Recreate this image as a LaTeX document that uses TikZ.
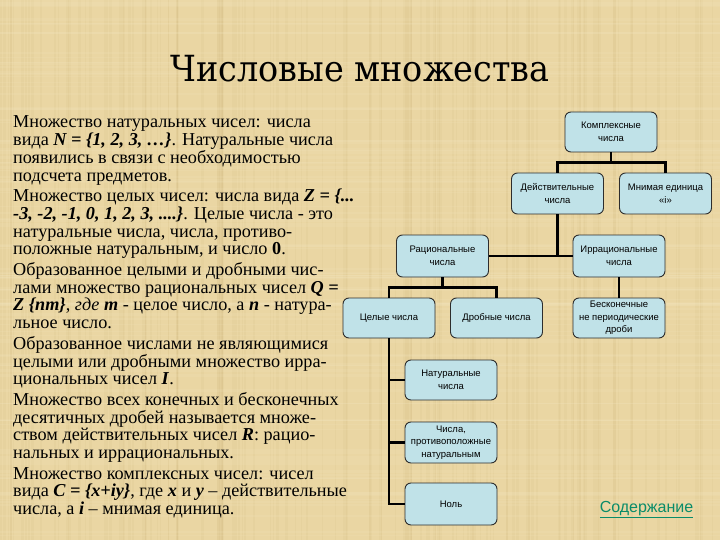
\documentclass[tikz,border=0pt]{standalone}
\usepackage{fontspec}
\setmainfont{Liberation Serif}
\newfontfamily\boxfont{Liberation Sans}
\newfontfamily\titlefont{DejaVu Serif}
\usepackage{graphicx}
\definecolor{paper}{RGB}{234,214,163}
\definecolor{paperdark}{RGB}{190,160,100}
\definecolor{paperlight}{RGB}{248,236,200}
\definecolor{boxfill}{RGB}{192,226,232}
\definecolor{boxline}{RGB}{45,45,45}
\definecolor{linkcol}{RGB}{10,140,105}
\newcommand{\bi}[1]{\textbf{\textit{#1}}}
\begin{document}
\begin{tikzpicture}[x=1pt,y=-1pt,
  box/.style={draw=boxline, line width=0.9pt, fill=boxfill, rounded corners=6pt,
    minimum width=92pt, minimum height=41pt, inner sep=1pt, align=center,
    font=\boxfont\fontsize{9.5}{12.5}\selectfont},
  conn/.style={line width=2.8pt, draw=black}]
\useasboundingbox (0,0) rectangle (720,540);
\fill[paper] (0,0) rectangle (720,540);
% linen texture
\pgfmathsetseed{11}
\foreach \i in {1,...,140}{
  \pgfmathsetmacro\xx{rnd*720}
  \pgfmathsetmacro\ww{0.5+rnd*3}
  \draw[draw=paperdark, opacity=0.07, line width=\ww pt] (\xx,0) -- (\xx,540);
}
\foreach \i in {1,...,110}{
  \pgfmathsetmacro\yy{rnd*540}
  \pgfmathsetmacro\ww{0.5+rnd*3}
  \draw[draw=paperlight, opacity=0.12, line width=\ww pt] (0,\yy) -- (720,\yy);
}
% title
\node[anchor=base, inner sep=0] (title) at (360,82)
  {\scalebox{0.93}[1]{\titlefont\fontsize{36}{40}\selectfont Числовые множества}};
% left text
\node[anchor=base west, inner sep=0] (body) at (13,128)
 {\parbox[t]{400pt}{\fontsize{18.2}{17.7}\selectfont\raggedright
 Множество натуральных чисел: числа\\
 вида \bi{N = \{1, 2, 3, …\}}. Натуральные числа\\
 появились в связи с необходимостью\\
 подсчета предметов.\\[3pt]
 Множество целых чисел: числа вида \bi{Z = \{...}\\
 \bi{-3, -2, -1, 0, 1, 2, 3, ....\}}. Целые числа - это\\
 натуральные числа, числа, противо-\\
 положные натуральным, и число \textbf{0}.\\[3pt]
 Образованное целыми и дробными чис-\\
 лами множество рациональных чисел \bi{Q =}\\
 \bi{Z \{nm\}}, \textit{где} \bi{m} - целое число, а \bi{n} - натура-\\
 льное число.\\[3pt]
 Образованное числами не являющимися\\
 целыми или дробными множество ирра-\\
 циональных чисел \bi{I}.\\[3pt]
 Множество всех конечных и бесконечных\\
 десятичных дробей называется множе-\\
 ством действительных чисел \bi{R}: рацио-\\
 нальных и иррациональных.\\[3pt]
 Множество комплексных чисел: чисел\\
 вида \bi{C = \{x+iy\}}, где \bi{x} и \bi{y} – действительные\\
 числа, а \bi{i} – мнимая единица.}};
% boxes
\node[box, minimum height=40pt] (kompl) at (611,132) {Комплексные\\числа};
\node[box] (deist) at (557.5,193.5) {Действительные\\числа};
\node[box] (mnim) at (665.5,193.5) {Мнимая единица\\«i»};
\node[box, minimum height=42pt] (rac) at (442.5,256) {Рациональные\\числа};
\node[box, minimum height=42pt] (irr) at (619,256) {Иррациональные\\числа};
\node[box, minimum height=40pt] (cel) at (389,318) {Целые числа};
\node[box, minimum height=40pt] (drob) at (496.5,318) {Дробные числа};
\node[box, minimum height=40pt] (besk) at (619,318) {Бесконечные\\не периодические\\дроби};
\node[box, minimum height=40pt] (nat) at (451,380) {Натуральные\\числа};
\node[box] (prot) at (451,442.5) {Числа,\\противоположные\\натуральным};
\node[box, minimum height=42pt] (nol) at (451,504) {Ноль};
% connectors
\draw[conn] (kompl.south) -- ++(0,10) -| (deist.north);
\draw[conn] (kompl.south) -- ++(0,10) -| (mnim.north);
\draw[conn] (deist.south) -- (deist.south |- rac.east);
\draw[conn] (rac.east) -- (irr.west);
\draw[conn] (rac.south) -- ++(0,10) -| (cel.north);
\draw[conn] (rac.south) -- ++(0,10) -| (drob.north);
\draw[conn] (irr.south) -- (besk.north);
\draw[conn] (cel.south) |- (nol.west);
\draw[conn] (cel.south |- nat.west) -- (nat.west);
\draw[conn] (cel.south |- prot.west) -- (prot.west);
% link
\node[anchor=base, inner sep=0, text=linkcol] (link) at (646.5,512)
  {\boxfont\fontsize{16}{18}\selectfont\underline{Содержание}};
\end{tikzpicture}
\end{document}
